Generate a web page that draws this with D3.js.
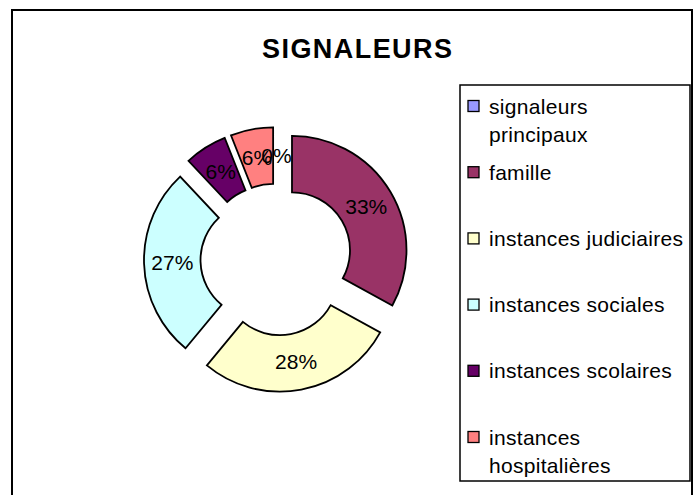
<!DOCTYPE html>
<html>
  <head>
    <meta charset="utf-8">
    <script src="https://d3js.org/d3.v7.min.js"></script>
    <title>SIGNALEURS</title>
    <style>
      body { margin: 0; background: #fff; }
      text { font-family: "Liberation Sans", Arial, sans-serif; }
    </style>
  </head>
  <body>
    <div id="svg_id"></div>
  </body>
  <script>

    // DATA

    const categories = ["signaleurs principaux", "famille", "instances judiciaires",
                        "instances sociales", "instances scolaires", "instances hospitalières"];
    const values = [0, 33, 28, 27, 6, 6];
    const legendLines = [["signaleurs", "principaux"], ["famille"], ["instances judiciaires"],
                         ["instances sociales"], ["instances scolaires"], ["instances", "hospitalières"]];
    const colors = ["#9999FF", "#993366", "#FFFFCC", "#CCFFFF", "#660066", "#FF8080"];

    // CONSTANTS

    const w = 693, h = 495;
    const cx = 276.5, cy = 259.5;
    const outerR = 114.5, innerR = 58;
    const explode = 18;

    var svg = d3.select('div#svg_id')
	.append("svg")
	.attr("width", w)
	.attr("height", h);

    // chart frame (runs off the bottom / right of the picture)
    svg.append('rect')
	.attr('x', 12).attr('y', 10)
	.attr('width', 680).attr('height', 500)
	.attr('fill', 'white')
	.attr('stroke', 'black')
	.attr('stroke-width', 2);

    svg.append('text')
	.attr('x', 357)
	.attr('y', 58)
	.attr('text-anchor', 'middle')
	.attr('font-size', 27)
	.attr('font-weight', 'bold')
	.attr('textLength', 190)
	.attr('lengthAdjust', 'spacing')
	.text('SIGNALEURS');

    var color = d3.scaleOrdinal().domain(categories).range(colors);

    var pie = d3.pie()
	.sort(null)
	.value(d => d.value);

    var arcs = pie(categories.map((c, i) => ({cat: c, value: values[i]})));

    var arc = d3.arc()
	.innerRadius(innerR)
	.outerRadius(outerR);

    var labelArc = d3.arc()
	.innerRadius((innerR + outerR) / 2)
	.outerRadius((innerR + outerR) / 2);

    function shift(d) {
	var a = (d.startAngle + d.endAngle) / 2;
	return [explode * Math.sin(a), -explode * Math.cos(a)];
    }

    var g = svg.append('g')
	.attr('transform', 'translate(' + cx + ',' + cy + ')');

    g.selectAll('path')
	.data(arcs.filter(d => d.value > 0))
	.enter()
	.append('path')
	.attr('transform', d => 'translate(' + shift(d).join(',') + ')')
	.attr('d', arc)
	.attr('fill', d => color(d.data.cat))
	.attr('stroke', 'black')
	.attr('stroke-width', 1.8);

    var total = d3.sum(values);
    g.selectAll('text.lbl')
	.data(arcs)
	.enter()
	.append('text')
	.attr('class', 'lbl')
	.attr('transform', function(d) {
	    var c = labelArc.centroid(d), s = shift(d);
	    return 'translate(' + (c[0] + s[0]) + ',' + (c[1] + s[1]) + ')';
	})
	.attr('text-anchor', 'middle')
	.attr('dy', '0.36em')
	.attr('font-size', 21)
	.text(d => d3.format('.0%')(d.value / total));

    // LEGEND

    var legend = svg.append('g');
    legend.append('rect')
	.attr('x', 460).attr('y', 85)
	.attr('width', 230).attr('height', 396)
	.attr('fill', 'white')
	.attr('stroke', 'black')
	.attr('stroke-width', 1.5);

    var ly = d3.scalePoint().domain(categories).range([106, 437]);

    var items = legend.selectAll('g.item')
	.data(categories)
	.enter()
	.append('g')
	.attr('class', 'item')
	.attr('transform', d => 'translate(0,' + ly(d) + ')');

    items.append('rect')
	.attr('x', 468).attr('y', -5.5)
	.attr('width', 11).attr('height', 11)
	.attr('fill', d => color(d))
	.attr('stroke', 'black')
	.attr('stroke-width', 1.3);

    items.append('text')
	.attr('x', 489)
	.attr('font-size', 21)
	.attr('letter-spacing', 0.3)
	.selectAll('tspan')
	.data((d, i) => legendLines[i])
	.enter()
	.append('tspan')
	.attr('x', 489)
	.attr('y', (d, j) => j * 28)
	.attr('dy', '0.36em')
	.text(d => d);

  </script>
</html>
